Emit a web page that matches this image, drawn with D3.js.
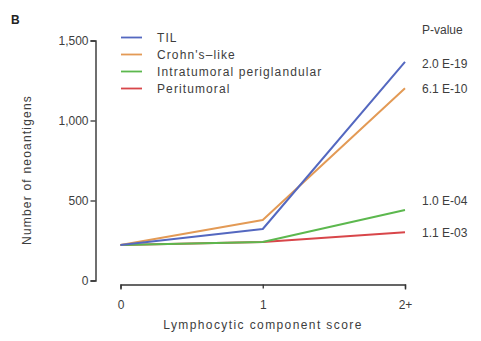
<!DOCTYPE html>
<html>
<head>
<meta charset="utf-8">
<script src="https://cdn.jsdelivr.net/npm/d3@7"></script>
<style>
  html, body { margin: 0; padding: 0; background: #fff; }
  svg { display: block; font-family: "Liberation Sans", Arial, sans-serif; }
</style>
</head>
<body>
<svg id="chart" width="481" height="341"></svg>
<script>
// Lymphocytic component score categories
const scores = ["0", "1", "2+"];

// Mean number of neoantigens per group
const tilValues = [222, 322, 1367];
const crohnValues = [222, 378, 1201];
const intraValues = [222, 240, 440];
const periValues = [222, 240, 301];

const seriesNames = ["TIL", "Crohn's\u2013like", "Intratumoral periglandular", "Peritumoral"];
const pValues = ["2.0 E-19", "6.1 E-10", "1.0 E-04", "1.1 E-03"];
const yTicks = [0, 500, 1000, 1500];
const colors = ["#5468c0", "#e39a55", "#5cb84e", "#d8464a"];

const series = [tilValues, crohnValues, intraValues, periValues].map((v, i) => ({
  name: seriesNames[i], values: v, color: colors[i], p: pValues[i]
}));

const textColor = "#3d3d3d";
const fs = 12;

const svg = d3.select("#chart");

const x = d3.scalePoint().domain(scores).range([120.5, 405]);
const y = d3.scaleLinear().domain([0, 1500]).range([280.5, 40.5]);

// Panel letter
svg.append("text").attr("x", 11).attr("y", 24)
  .attr("font-size", 12).attr("font-weight", "bold").attr("fill", "#222").text("B");

// Y axis
const yAxis = svg.append("g").attr("transform", "translate(95.5,0)")
  .call(d3.axisLeft(y).tickValues(yTicks).tickSize(5).tickPadding(2).tickFormat(d3.format(",")));
yAxis.select(".domain").attr("stroke", "#333").attr("stroke-width", 1.4);
yAxis.selectAll(".tick line").attr("stroke", "#333").attr("stroke-width", 1.3);
yAxis.selectAll(".tick text").attr("font-size", fs).attr("fill", textColor)
  .attr("font-family", "Liberation Sans, Arial, sans-serif");

// X axis
const xAxis = svg.append("g").attr("transform", "translate(0,284.5)")
  .call(d3.axisBottom(x).tickSize(4).tickSizeOuter(5).tickPadding(12));
xAxis.select(".domain").attr("stroke", "#333").attr("stroke-width", 1.4);
xAxis.selectAll(".tick line").attr("stroke", "#333").attr("stroke-width", 1.3);
xAxis.selectAll(".tick text").attr("font-size", fs).attr("fill", textColor)
  .attr("font-family", "Liberation Sans, Arial, sans-serif");

// Axis titles
svg.append("text").attr("transform", "translate(31,170) rotate(-90)")
  .attr("text-anchor", "middle").attr("font-size", fs).attr("fill", textColor)
  .attr("letter-spacing", 1.2)
  .text("Number of neoantigens");
svg.append("text").attr("x", 263).attr("y", 329)
  .attr("text-anchor", "middle").attr("font-size", fs).attr("fill", textColor)
  .attr("letter-spacing", 1.4)
  .text("Lymphocytic component score");

// Series lines, drawn back to front
const line = d3.line().x((d, i) => x(scores[i])).y(d => y(d));
svg.append("g").selectAll("path")
  .data(series.slice().reverse())
  .join("path")
  .attr("d", d => line(d.values))
  .attr("fill", "none")
  .attr("stroke", d => d.color)
  .attr("stroke-width", 2)
  .attr("stroke-linejoin", "round");

// Legend
const legend = svg.append("g");
series.forEach((s, i) => {
  const ly = 37.5 + i * 17;
  legend.append("line").attr("x1", 121).attr("x2", 142).attr("y1", ly).attr("y2", ly)
    .attr("stroke", s.color).attr("stroke-width", 1.8);
  legend.append("text").attr("x", 157).attr("y", ly + 4.3)
    .attr("font-size", fs).attr("fill", textColor).attr("letter-spacing", 1.1).text(s.name);
});

// P-values next to line ends
svg.append("text").attr("x", 422).attr("y", 34)
  .attr("font-size", fs).attr("fill", textColor).text("P-value");
const pOffsets = [2, 0, -9, 0];
series.forEach((s, i) => {
  const v = s.values[s.values.length - 1];
  svg.append("text").attr("x", 422).attr("y", y(v) + 4.3 + pOffsets[i])
    .attr("font-size", fs).attr("fill", textColor).text(s.p);
});
</script>
</body>
</html>
